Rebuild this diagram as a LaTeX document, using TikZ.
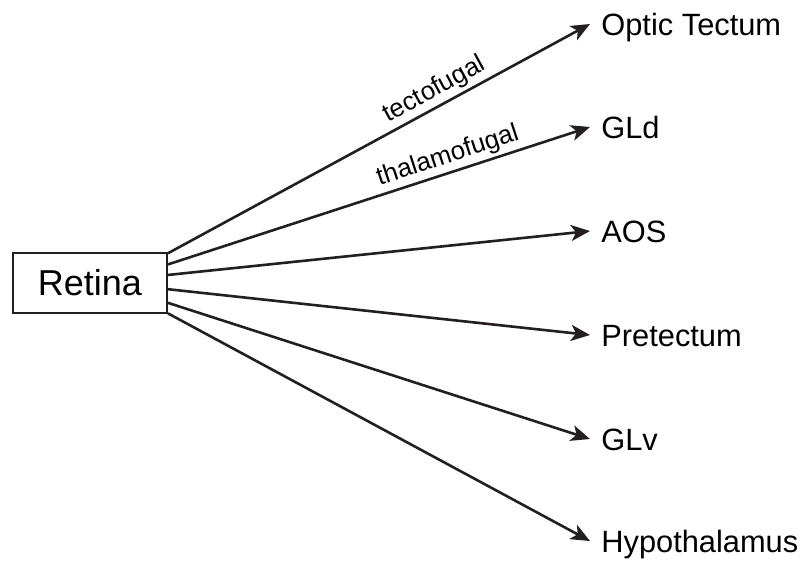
\documentclass[tikz,border=0pt]{standalone}
\usepackage{fontspec}
\setmainfont{Liberation Sans}
\usetikzlibrary{arrows.meta,calc}
\definecolor{ink}{HTML}{231F20}
\begin{document}
\begin{tikzpicture}[x=0.5pt,y=-0.5pt,
  conn/.style={draw=ink,line width=1.3pt,-{Stealth[length=9.5pt,width=8pt,inset=2.5pt]}},
  lbl/.style={anchor=base west,inner sep=0pt,text=black,font=\fontsize{15.4}{18}\selectfont},
  tag/.style={sloped,above=1.5pt,inner sep=0pt,text=black,font=\fontsize{12.9}{15}\selectfont},
  boxst/.style={draw=ink,line width=1pt,minimum width=77pt,minimum height=30pt,inner sep=0pt,font=\fontsize{18}{21}\selectfont}]
\useasboundingbox (0,0) rectangle (802,563);
\node[boxst] (ret) at (90,283) {Retina};
% labels
\node[lbl] (ot) at (601,35) {Optic Tectum};
\node[lbl] (gld) at (601,138) {GLd};
\node[lbl] (aos) at (601,242) {AOS};
\node[lbl] (pre) at (601,346) {Pretectum};
\node[lbl] (glv) at (601,450) {GLv};
\node[lbl] (hyp) at (601,552) {Hypothalamus};
% start points on the box
\coordinate (s1) at ($(ret.north east)!0.02!(ret.south east)$);
\coordinate (s2) at ($(ret.north east)!0.2!(ret.south east)$);
\coordinate (s3) at ($(ret.north east)!0.37!(ret.south east)$);
\coordinate (s4) at ($(ret.north east)!0.6!(ret.south east)$);
\coordinate (s5) at ($(ret.north east)!0.82!(ret.south east)$);
\coordinate (s6) at ($(ret.north east)!0.99!(ret.south east)$);
% arrow tips
\coordinate (e1) at (590,24);
\coordinate (e2) at (590,127);
\coordinate (e3) at (590,231);
\coordinate (e4) at (590,335);
\coordinate (e5) at (590,439);
\coordinate (e6) at (590,541);
\draw[conn] (s1) -- node[tag,pos=0.65] {tectofugal} (e1);
\draw[conn] (s2) -- node[tag,pos=0.675] {thalamofugal} (e2);
\draw[conn] (s3) -- (e3);
\draw[conn] (s4) -- (e4);
\draw[conn] (s5) -- (e5);
\draw[conn] (s6) -- (e6);
\end{tikzpicture}
\end{document}
